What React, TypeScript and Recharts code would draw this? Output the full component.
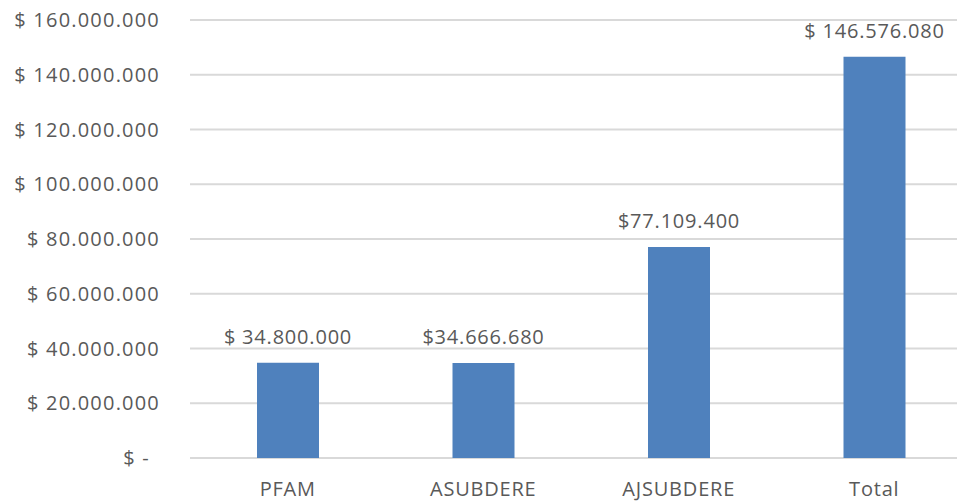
import { BarChart, Bar, XAxis, YAxis, CartesianGrid, LabelList } from 'recharts';

const categories = ['PFAM', 'ASUBDERE', 'AJSUBDERE', 'Total'];
const values = [34800000, 34666680, 77109400, 146576080];
const valueLabels = ['$ 34.800.000', '$34.666.680', '$77.109.400', '$ 146.576.080'];
const yTicks = [0, 20000000, 40000000, 60000000, 80000000, 100000000, 120000000, 140000000, 160000000];

const data = categories.map((name, i) => ({ name, value: values[i], label: valueLabels[i] }));

const FONT = '"Open Sans", sans-serif';
const TEXT = '#595959';

const fmtY = (v: number) =>
  v === 0 ? '$ -' : '$ ' + v.toLocaleString('de-DE');

function YTick(props: any) {
  const { x, y, payload } = props;
  const zero = payload.value === 0;
  return (
    <text
      x={x - (zero ? 12 : 2)}
      y={y}
      dy={7}
      textAnchor="end"
      fill={TEXT}
      fontSize={20}
      fontFamily={FONT}
      letterSpacing={1.2}
    >
      {fmtY(payload.value)}
    </text>
  );
}

function XTick(props: any) {
  const { x, y, payload } = props;
  return (
    <text x={x} y={y} dy={30} textAnchor="middle" fill={TEXT} fontSize={20} fontFamily={FONT} letterSpacing={0.8}>
      {payload.value}
    </text>
  );
}

function ValueLabel(props: any) {
  const { x, y, width, index } = props;
  return (
    <text
      x={x + width / 2}
      y={y - 19}
      textAnchor="middle"
      fill={TEXT}
      fontSize={20}
      fontFamily={FONT}
      letterSpacing={0.8}
    >
      {valueLabels[index]}
    </text>
  );
}

export default function App() {
  return (
    <div style={{ position: 'absolute', left: 0, top: 0, width: 957, height: 502, overflow: 'hidden', background: '#fff' }}>
      <BarChart
        width={980}
        height={502}
        data={data}
        margin={{ top: 20, right: 8, bottom: 0, left: 0 }}
        barSize={62}
      >
        <CartesianGrid horizontal vertical={false} stroke="#d9d9d9" strokeWidth={2} />
        <XAxis dataKey="name" axisLine={false} tickLine={false} height={44} tick={<XTick />} interval={0} />
        <YAxis
          width={190}
          domain={[0, 160000000]}
          ticks={yTicks}
          axisLine={false}
          tickLine={false}
          tickMargin={22}
          tick={<YTick />}
          interval={0}
        />
        <Bar dataKey="value" fill="#4F81BD" isAnimationActive={false}>
          <LabelList dataKey="label" content={<ValueLabel />} />
        </Bar>
      </BarChart>
    </div>
  );
}
